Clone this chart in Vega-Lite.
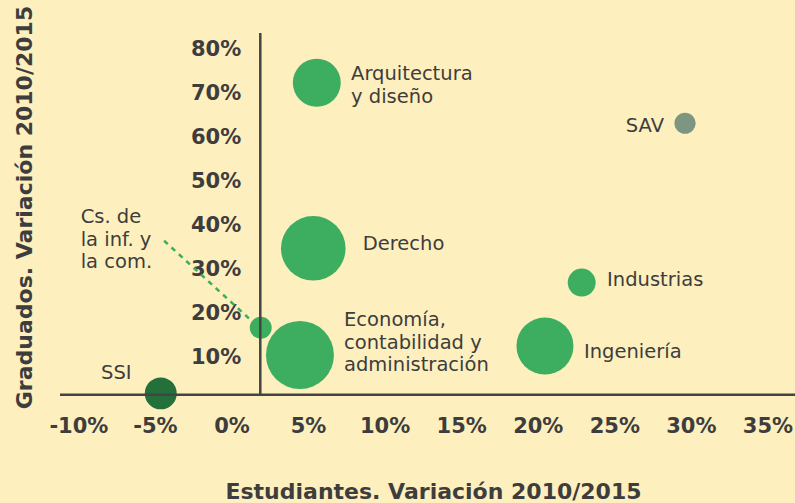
{
  "$schema": "https://vega.github.io/schema/vega-lite/v6.json",
  "width": 735,
  "height": 375,
  "autosize": {"type": "none"},
  "padding": {"left": 60, "top": 30, "right": 0, "bottom": 98},
  "background": "#FDEFBE",
  "config": {
    "view": {"stroke": null},
    "axis": {"grid": false, "domain": false, "ticks": false, "labelColor": "#3d3d3d", "titleColor": "#3d3d3d", "labelFont": "DejaVu Sans", "titleFont": "DejaVu Sans", "labelFontWeight": "bold", "titleFontWeight": "bold", "labelFontSize": 21, "titleFontSize": 22, "labelOverlap": false, "labelFlush": false}
  },
  "datasets": {
    "areas": [
      {"area": "Arquitectura y diseño", "label": "Arquitectura\ny diseño", "estudiantes": 5.57, "graduados": 72.4, "peso": 23.0, "grupo": "general", "lx": 7.81, "ly": 73.02},
      {"area": "Derecho", "label": "Derecho", "estudiantes": 5.34, "graduados": 34.77, "peso": 41.7, "grupo": "general", "lx": 8.57, "ly": 34.39},
      {"area": "Economía, contabilidad y administración", "label": "Economía,\ncontabilidad y\nadministración", "estudiantes": 4.47, "graduados": 10.52, "peso": 46.2, "grupo": "general", "lx": 7.35, "ly": 17.11},
      {"area": "Cs. de la inf. y la com.", "label": "Cs. de\nla inf. y\nla com.", "estudiantes": 1.91, "graduados": 16.73, "peso": 4.8, "grupo": "general", "lx": -9.85, "ly": 40.45},
      {"area": "SSI", "label": "SSI", "estudiantes": -4.62, "graduados": 1.8, "peso": 10.2, "grupo": "SSI", "lx": -8.52, "ly": 5.07},
      {"area": "SAV", "label": "SAV", "estudiantes": 29.62, "graduados": 63.2, "peso": 4.5, "grupo": "SAV", "lx": 25.75, "ly": 61.27},
      {"area": "Industrias", "label": "Industrias", "estudiantes": 22.87, "graduados": 27.0, "peso": 7.8, "grupo": "general", "lx": 24.53, "ly": 26.27},
      {"area": "Ingeniería", "label": "Ingeniería", "estudiantes": 20.47, "graduados": 12.57, "peso": 32.5, "grupo": "general", "lx": 23.02, "ly": 9.84}
    ],
    "ejes": [
      {"eje": "horizontal", "x": -11.2, "x2": 36.8, "y": 1.5, "y2": 1.5},
      {"eje": "vertical", "x": 1.88, "x2": 1.88, "y": 1.5, "y2": 83.7}
    ],
    "conector": [
      {"x": -4.4, "y": 36.5, "x2": 1.4, "y2": 18}
    ]
  },
  "layer": [
    {
      "data": {"name": "areas"},
      "mark": {"type": "circle", "opacity": 1},
      "encoding": {
        "x": {"field": "estudiantes", "type": "quantitative", "scale": {"domain": [-11.2, 36.8], "nice": false, "zero": false},
          "axis": {"values": [-10, -5, 0, 5, 10, 15, 20, 25, 30, 35], "labelExpr": "datum.value + '%'", "labelBaseline": "middle", "labelPadding": 21, "title": "Estudiantes. Variación 2010/2015", "titleX": 373, "titleY": 93, "titleBaseline": "alphabetic", "titleAnchor": "middle", "titleAlign": "center"}},
        "y": {"field": "graduados", "type": "quantitative", "scale": {"domain": [-0.84, 84.39], "nice": false, "zero": false},
          "axis": {"values": [10, 20, 30, 40, 50, 60, 70, 80], "labelExpr": "datum.value + '%'", "labelAlign": "right", "labelBaseline": "middle", "labelPadding": 0, "offset": -180.7, "title": "Graduados. Variación 2010/2015", "titleAngle": -90, "titleX": -209.7, "titleY": 177, "titleBaseline": "alphabetic", "titleAlign": "center", "titleAnchor": "middle"}},
        "size": {"field": "peso", "type": "quantitative", "scale": {"type": "linear", "domain": [0, 100], "range": [0, 10000]}, "legend": null},
        "color": {"field": "grupo", "type": "nominal", "scale": {"domain": ["general", "SSI", "SAV"], "range": ["#3DAE5F", "#23703A", "#7D9682"]}, "legend": null}
      }
    },
    {
      "data": {"name": "ejes"},
      "mark": {"type": "rule", "color": "#444444", "strokeWidth": 2.5},
      "encoding": {
        "x": {"field": "x", "type": "quantitative", "title": "Estudiantes. Variación 2010/2015"},
        "x2": {"field": "x2"},
        "y": {"field": "y", "type": "quantitative", "title": "Graduados. Variación 2010/2015"},
        "y2": {"field": "y2"}
      }
    },
    {
      "data": {"name": "conector"},
      "mark": {"type": "rule", "color": "#3DAE5F", "strokeWidth": 2.5, "strokeDash": [5, 5]},
      "encoding": {
        "x": {"field": "x", "type": "quantitative", "title": "Estudiantes. Variación 2010/2015"},
        "x2": {"field": "x2"},
        "y": {"field": "y", "type": "quantitative", "title": "Graduados. Variación 2010/2015"},
        "y2": {"field": "y2"}
      }
    },
    {
      "data": {"name": "areas"},
      "mark": {"type": "text", "align": "left", "baseline": "alphabetic", "lineBreak": "\n", "lineHeight": 22.5, "font": "DejaVu Sans", "fontSize": 19.5, "color": "#3d3d3d"},
      "encoding": {
        "x": {"field": "lx", "type": "quantitative", "title": "Estudiantes. Variación 2010/2015"},
        "y": {"field": "ly", "type": "quantitative", "title": "Graduados. Variación 2010/2015"},
        "text": {"field": "label"}
      }
    }
  ]
}
